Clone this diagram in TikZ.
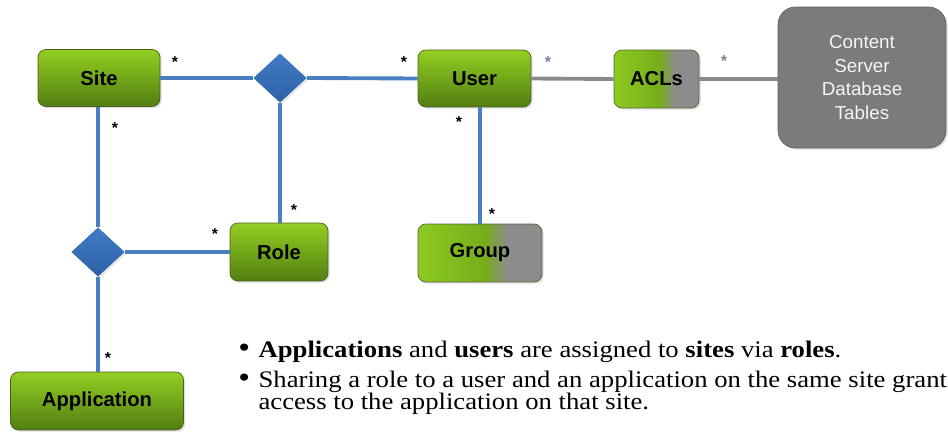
\documentclass[tikz,border=0pt]{standalone}
\usepackage{fontspec}
\setmainfont{Liberation Serif}
\setsansfont{Liberation Sans}
\usetikzlibrary{shapes.geometric,shadows,scopes}

\definecolor{linkblue}{HTML}{4A7EBE}
\definecolor{diatop}{HTML}{3F7BC4}
\definecolor{diabot}{HTML}{2E62A6}
\definecolor{boxtop}{HTML}{93CF22}
\definecolor{boxbot}{HTML}{527E12}
\definecolor{boxedge}{HTML}{4C5E20}
\definecolor{linkgray}{HTML}{8A8A8A}
\definecolor{dbgray}{HTML}{7B7B7B}
\definecolor{dbedge}{HTML}{5E5E5E}
\definecolor{mixgreen}{HTML}{8CCB20}
\definecolor{mixgray}{HTML}{8C8C8C}

\pgfdeclarehorizontalshading{greengray}{100bp}{color(0bp)=(mixgreen); color(25bp)=(mixgreen); color(52bp)=(mixgreen!85!black); color(61bp)=(mixgray); color(100bp)=(mixgray)}

\newcommand{\notewide}[1]{\scalebox{1.125}[1]{#1}}
\newcommand{\notebullet}{\makebox[0.36cm][l]{\fontsize{17}{17}\selectfont\textbullet}}

\begin{document}
\begin{tikzpicture}[
  x=0.02cm, y=-0.02cm,
  entity/.style={draw=boxedge, rounded corners=4.5pt, top color=boxtop, bottom color=boxbot,
    font=\sffamily\bfseries\fontsize{11.5}{13}\selectfont, inner sep=0pt,
    drop shadow={opacity=0.25, shadow xshift=1pt, shadow yshift=-1pt}},
  halfentity/.style={entity, shading=greengray, draw=boxedge!80!gray},
  assoc/.style={diamond, fill=diatop, inner sep=0pt, top color=diatop, bottom color=diabot,
    drop shadow={opacity=0.2, shadow xshift=1pt, shadow yshift=-1pt}},
  link/.style={draw=linkblue, line width=2.2pt},
  graylink/.style={draw=linkgray, line width=2.2pt},
  mult/.style={font=\sffamily\bfseries\fontsize{9}{9}\selectfont, inner sep=0pt},
  graymult/.style={mult, text=linkgray!90!blue},
  note/.style={font=\fontsize{13.5}{13}\selectfont, align=left, inner sep=0pt, anchor=base west},
  ]
  \useasboundingbox (0,0) rectangle (948,432);
  \clip (0,0) rectangle (948,432);

  % Entities
  \node[entity, minimum width=2.44cm, minimum height=1.14cm] (site) at (99,78) {Site};
  \node[entity, minimum width=2.26cm, minimum height=1.14cm] (user) at (474.5,78.5) {User};
  \node[halfentity, minimum width=1.7cm, minimum height=1.16cm] (acls) at (656.5,79) {ACLs};
  \node[entity, minimum width=1.96cm, minimum height=1.16cm] (role) at (279,252) {Role};
  \node[halfentity, minimum width=2.48cm, minimum height=1.16cm] (group) at (480,253) {Group};
  \node[entity, minimum width=3.46cm, minimum height=1.16cm] (app) at (97,401) {Application};

  % Database tables
  \node[draw=dbedge, fill=dbgray, rounded corners=10pt, minimum width=3.36cm, minimum height=2.82cm,
    text=white!92!gray, align=center, font=\sffamily\fontsize{10.7}{13.6}\selectfont,
    drop shadow={opacity=0.25, shadow xshift=1pt, shadow yshift=-1pt}]
    (db) at (862,77.5) {Content\\Server\\Database\\Tables};

  % Associations
  \node[assoc, minimum width=1.06cm, minimum height=0.98cm] (siteuser) at (280,78) {};
  \node[assoc, minimum width=1.06cm, minimum height=0.98cm] (siteapp) at (98,252) {};

  % Links
  {[link]
    \draw (site.east) -- (siteuser.west);
    \draw (siteuser.east) -- (user.west);
    \draw (siteuser.south) -- (role.north -| siteuser.south);
    \draw (site.south -| siteapp.north) -- (siteapp.north);
    \draw (siteapp.east) -- (role.west);
    \draw (siteapp.south) -- (app.north -| siteapp.south);
    \draw (user.south -| group.north) -- (group.north);
  }
  {[graylink]
    \draw (user.east) -- (acls.west);
    \draw (acls.east) -- (db.west |- acls.east);
  }

  % Multiplicities
  \node[mult] (m1) at (175,62) {*};
  \node[mult] (m2) at (404,62) {*};
  \node[mult] (m3) at (115,128) {*};
  \node[mult] (m4) at (459,122) {*};
  \node[mult] (m5) at (294,210) {*};
  \node[mult] (m6) at (215,234) {*};
  \node[mult] (m7) at (492,214) {*};
  \node[mult] (m8) at (108,358) {*};
  \node[graymult] (m9) at (548,62) {*};
  \node[graymult] (m10) at (724,61) {*};
  \node[graymult] (m11) at (785,61) {*};

  % Notes
  \node[note] (note1) at (238,358)
    {\notewide{\notebullet\textbf{Applications} and \textbf{users} are assigned to \textbf{sites} via \textbf{roles}.}};
  \node[note] (note2) at (238,410)
    {\notewide{\notebullet Sharing a role to a user and an application on the same site grants}\\
     \notewide{\hspace*{0.36cm}access to the application on that site.}};

\end{tikzpicture}
\end{document}
